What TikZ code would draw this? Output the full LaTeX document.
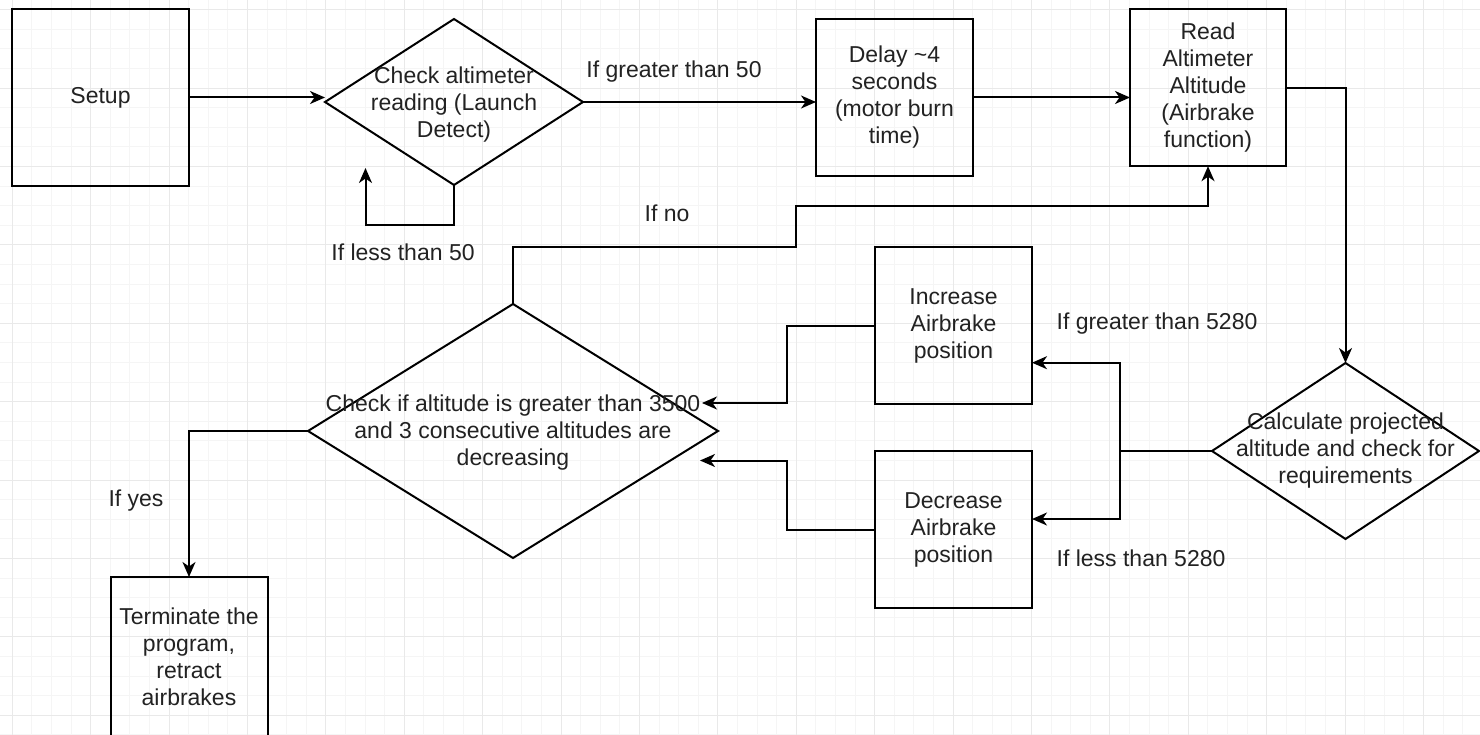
\documentclass[tikz,border=0pt]{standalone}
\usepackage{fontspec}
\setmainfont{Liberation Sans}
\usetikzlibrary{shapes.geometric,arrows.meta}
\definecolor{gridmajor}{HTML}{E9E9E9}
\definecolor{gridminor}{HTML}{F5F5F5}
\definecolor{txtcol}{HTML}{222222}
\tikzset{
  box/.style={draw, line width=2pt, align=center, inner sep=0pt, outer sep=0pt,
    text=txtcol, font=\fontsize{23}{27}\selectfont},
  decision/.style={draw, diamond, line width=2pt, inner sep=0pt, outer sep=0pt},
  dtext/.style={align=center, text=txtcol, font=\fontsize{23}{27}\selectfont},
  lbl/.style={text=txtcol, font=\fontsize{23}{27}\selectfont, inner sep=0pt},
  arr/.style={-{Stealth[length=15pt,width=13pt,inset=4.5pt]}, line width=2pt},
  minorline/.style={gridminor, line width=1pt},
  majorline/.style={gridmajor, line width=1pt}
}

\begin{document}
\begin{tikzpicture}[x=1pt,y=-1pt]
\useasboundingbox[fill=white] (0,0) rectangle (1480,735);
% background grid
\foreach \i in {0,...,76}
     \draw[minorline] ({-7.3+19.6*\i},0) -- ({-7.3+19.6*\i},735);
\foreach \j in {0,...,38}
     \draw[minorline] (0,{-9.9+19.6*\j}) -- (1480,{-9.9+19.6*\j});
\foreach \i in {0,...,18}
     \draw[majorline] ({12.3+78.4*\i},0) -- ({12.3+78.4*\i},735);
\foreach \j in {0,...,9}
     \draw[majorline] (0,{9.7+78.4*\j}) -- (1480,{9.7+78.4*\j});

% boxes
\node[box, minimum width=177pt, minimum height=177pt] (setup) at (100.5,97.5) {Setup};
\node[box, minimum width=157pt, minimum height=157pt] (delay) at (894.5,97.5) {Delay \textasciitilde4\\seconds\\(motor burn\\time)};
\node[box, minimum width=156pt, minimum height=157pt] (read) at (1208,87.7) {Read\\Altimeter\\Altitude\\(Airbrake\\function)};
\node[box, minimum width=157pt, minimum height=157pt] (inc) at (953.5,325.5) {Increase\\Airbrake\\position};
\node[box, minimum width=157pt, minimum height=157pt] (dec) at (953.5,529.5) {Decrease\\Airbrake\\position};
\node[box, minimum width=157pt, minimum height=160pt] (term) at (189,657) {Terminate the\\program,\\retract\\airbrakes};

% decisions
\node[decision, minimum width=258pt, minimum height=166pt] (chk) at (454,102) {};
\node[dtext] (chktxt) at (454,105) {Check altimeter\\reading (Launch\\Detect)};
\node[decision, minimum width=410pt, minimum height=254pt] (alt) at (513,431) {};
\node[dtext] (alttxt) at (513,433) {Check if altitude is greater than 3500\\and 3 consecutive altitudes are\\decreasing};
\node[decision, minimum width=267pt, minimum height=176pt] (calc) at (1345.5,451) {};
\node[dtext] (calctxt) at (calc.center) {Calculate projected\\altitude and check for\\requirements};

% free ends
\coordinate (loopend) at (365.5,168);
\coordinate (incend) at (702,403);
\coordinate (decend) at (700,460.5);
\coordinate (split) at (1120,451);

% connectors
\draw[arr] (setup.east) -- (setup.east -| chk.west);
\draw[arr] (chk.east) -- (chk.east -| delay.west);
\draw[arr] (delay.east) -- (delay.east -| read.west);
\draw[arr] (chk.south) -- ++(0,40) -| (loopend);
\draw[arr] (read.east) -| (calc.north);
\draw[arr] (calc.west) -- (split) |- ([yshift=-37.2pt]inc.east);
\draw[arr] (split) |- ([yshift=10.5pt]dec.east);
\draw[arr] (inc.west) -- ++(-88,0) |- (incend);
\draw[arr] (dec.west) -- ++(-88,0) |- (decend);
\draw[arr] (alt.north) -- ++(0,-57.3) -| ++(283,-40.7) -| (read.south);
\draw[arr] (alt.west) -| (term.north);

%labels
\node[lbl] (gt50) at (674,72) {If greater than 50};
\node[lbl] (lt50) at (403,252) {If less than 50};
\node[lbl] (ifno) at (667,213) {If no};
\node[lbl] (ifyes) at (136,501) {If yes};
\node[lbl] (gt5280) at (1157,324) {If greater than 5280};
\node[lbl] (lt5280) at (1141,558) {If less than 5280};

\end{tikzpicture}
\end{document}
